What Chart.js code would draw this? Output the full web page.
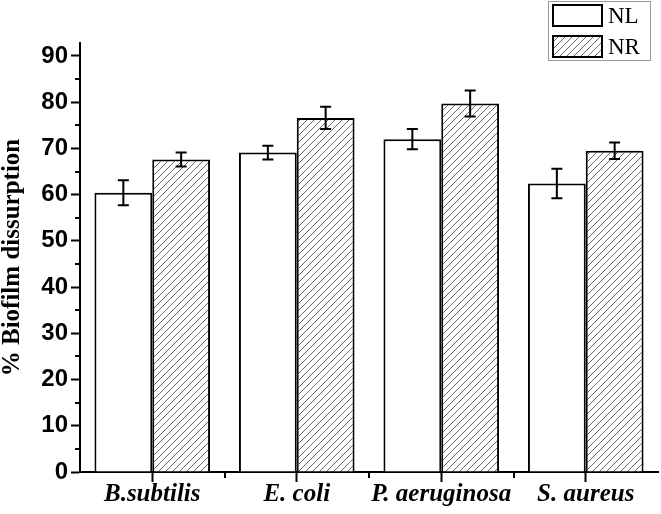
<!DOCTYPE html>
<html>
<head>
<meta charset="utf-8">
<script src="https://cdn.jsdelivr.net/npm/chart.js@4/dist/chart.umd.min.js"></script>
<style>
    body { margin: 0; background: #fff; }
    #wrap { width: 661px; height: 514px; position: relative; }
</style>
</head>
<body>
<div id="wrap"><canvas id="myChart"></canvas></div>
<script>
const categories = ['B.subtilis', 'E. coli', 'P. aeruginosa', 'S. aureus'];
const seriesNames = ['NL', 'NR'];
const nlValues = [60.4, 69.1, 72.0, 62.4];
const nlErrors = [2.7, 1.5, 2.2, 3.2];
const nrValues = [67.6, 76.6, 79.7, 69.5];
const nrErrors = [1.5, 2.4, 2.8, 1.8];
const yMajorTicks = [0, 10, 20, 30, 40, 50, 60, 70, 80, 90];
const yMinorStep = 5;
const yMax = 92.8;

// diagonal hatch for the NR bars
const makeHatch = () => {
    var c = document.createElement('canvas');
    c.width = 7;
    c.height = 7;
    var g = c.getContext('2d');
    g.fillStyle = '#fff';
    g.fillRect(0, 0, 7, 7);
    g.strokeStyle = '#666';
    g.lineWidth = 1;
    g.beginPath();
    g.moveTo(0, 7); g.lineTo(7, 0);
    g.moveTo(-1, 1); g.lineTo(1, -1);
    g.moveTo(6, 8); g.lineTo(8, 6);
    g.stroke();
    return g.createPattern(c, 'repeat');
}

var hatch = makeHatch();

const errorBars = {
    id: 'errorBars',
    afterDatasetsDraw: (chart) => {
        var ctx = chart.ctx;
        var y = chart.scales.y;
        ctx.save();
        ctx.strokeStyle = '#000';
        ctx.lineWidth = 2;
        chart.data.datasets.forEach((ds, di) => {
            chart.getDatasetMeta(di).data.forEach((bar, i) => {
                var top = y.getPixelForValue(ds.data[i] + ds.errors[i]);
                var bottom = y.getPixelForValue(ds.data[i] - ds.errors[i]);
                ctx.beginPath();
                ctx.moveTo(bar.x, top); ctx.lineTo(bar.x, bottom);
                ctx.moveTo(bar.x - 5.5, top); ctx.lineTo(bar.x + 5.5, top);
                ctx.moveTo(bar.x - 5.5, bottom); ctx.lineTo(bar.x + 5.5, bottom);
                ctx.stroke();
            });
        });
        ctx.restore();
    }
}

// minor ticks on both axes
const minorTicks = {
    id: 'minorTicks',
    afterDraw: (chart) => {
        var ctx = chart.ctx;
        var x = chart.scales.x;
        var y = chart.scales.y;
        var area = chart.chartArea;
        ctx.save();
        ctx.strokeStyle = '#000';
        ctx.lineWidth = 2;
        ctx.beginPath();
        for (var v = yMinorStep; v < yMax; v += 2 * yMinorStep) {
            var py = Math.round(y.getPixelForValue(v));
            ctx.moveTo(area.left, py);
            ctx.lineTo(area.left - 5, py);
        }
        var half = (x.getPixelForValue(1) - x.getPixelForValue(0)) / 2;
        for (var i = 1; i < categories.length; i++) {
            var px = Math.round(x.getPixelForValue(i) - half);
            ctx.moveTo(px, area.bottom);
            ctx.lineTo(px, area.bottom + 6);
        }
        ctx.stroke();
        ctx.restore();
    }
}

const boxLegend = {
    id: 'boxLegend',
    afterDraw: (chart) => {
        var ctx = chart.ctx;
        ctx.save();
        ctx.strokeStyle = '#999';
        ctx.lineWidth = 1;
        ctx.strokeRect(548.5, 1.5, 102, 59);
        chart.data.datasets.forEach((ds, i) => {
            var top = 5 + i * 31;
            ctx.fillStyle = ds.backgroundColor;
            ctx.fillRect(553, top, 49, 21);
            ctx.strokeStyle = '#000';
            ctx.lineWidth = 2;
            ctx.strokeRect(553, top, 49, 21);
            ctx.fillStyle = '#000';
            ctx.font = '23px "Liberation Serif"';
            ctx.textBaseline = 'middle';
            ctx.fillText(ds.label, 608, top + 12);
        });
        ctx.restore();
    }
}

const buildChart = () => {
    var ctx = document.getElementById('myChart').getContext('2d');
    new Chart(ctx, {
        type: 'bar',
        data: {
            labels: categories,
            datasets: [{
                label: seriesNames[0],
                data: nlValues,
                errors: nlErrors,
                backgroundColor: '#fff',
                borderColor: '#000',
                borderWidth: 2
            }, {
                label: seriesNames[1],
                data: nrValues,
                errors: nrErrors,
                backgroundColor: hatch,
                borderColor: '#000',
                borderWidth: 2
            }]
        },
        options: {
            responsive: true,
            maintainAspectRatio: false,
            animation: false,
            layout: { padding: { top: 43, right: 3, left: 0, bottom: 0 } },
            datasets: { bar: { categoryPercentage: 0.8, barPercentage: 1.0 } },
            plugins: { legend: { display: false }, tooltip: { enabled: false } },
            scales: {
                x: {
                    afterFit: (scale) => { scale.height = 42; },
                    border: { color: '#000', width: 2 },
                    grid: { offset: false, drawOnChartArea: false, color: '#000', tickLength: 10, tickWidth: 2 },
                    ticks: {
                        color: '#000',
                        padding: 0,
                        maxRotation: 0,
                        minRotation: 0,
                        autoSkip: false,
                        font: { family: 'Liberation Serif', size: 25, weight: 'bold', style: 'italic', lineHeight: 1 }
                    }
                },
                y: {
                    min: 0,
                    max: yMax,
                    afterFit: (scale) => { scale.width = 80; },
                    afterBuildTicks: (scale) => {
                        scale.ticks = yMajorTicks.map((v) => ({ value: v }));
                    },
                    border: { color: '#000', width: 2 },
                    grid: { drawOnChartArea: false, color: '#000', tickLength: 9, tickWidth: 2 },
                    ticks: {
                        color: '#000',
                        padding: 3,
                        font: { family: 'Liberation Sans', size: 24, weight: 'bold' }
                    },
                    title: {
                        display: true,
                        text: '% Biofilm dissurption',
                        color: '#000',
                        padding: 0,
                        font: { family: 'Liberation Serif', size: 25, weight: 'bold', lineHeight: 1 }
                    }
                }
            }
        },
        plugins: [errorBars, minorTicks, boxLegend]
    });
}

window.onload = () => {
    buildChart();
}
</script>
</body>
</html>
